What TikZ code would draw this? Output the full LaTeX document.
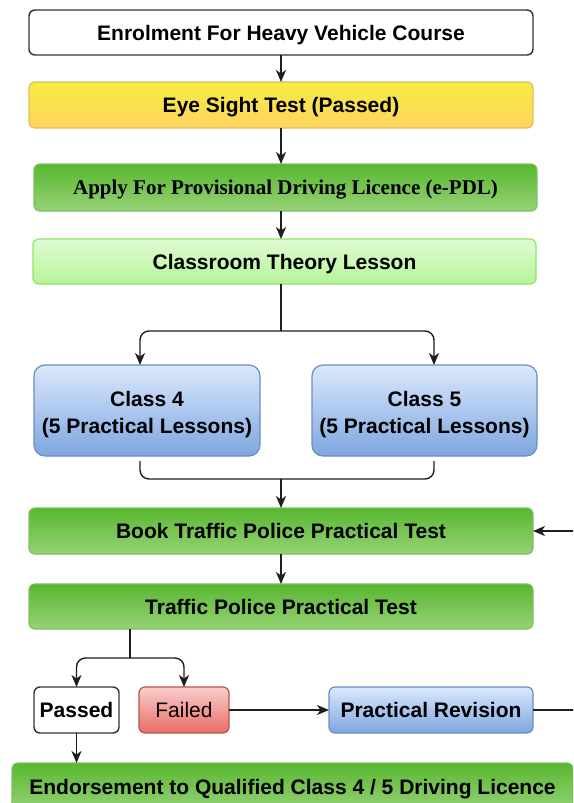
\documentclass[tikz,border=0pt]{standalone}
\usepackage{fontspec}
\setmainfont{Liberation Sans}
\newfontfamily\serifbold{Liberation Serif}
\usetikzlibrary{arrows.meta,calc}
\definecolor{lineC}{RGB}{30,30,30}
\definecolor{boxC}{RGB}{51,51,51}
\definecolor{yelT}{RGB}{247,237,66}
\definecolor{yelB}{RGB}{253,212,95}
\definecolor{yelD}{RGB}{222,190,100}
\definecolor{grnT}{RGB}{88,183,48}
\definecolor{grnB}{RGB}{150,210,118}
\definecolor{grnD}{RGB}{128,190,98}
\definecolor{lgrT}{RGB}{224,252,212}
\definecolor{lgrB}{RGB}{182,244,152}
\definecolor{lgrD}{RGB}{146,226,110}
\definecolor{bluT}{HTML}{DAE8FC}
\definecolor{bluB}{HTML}{7EA6E0}
\definecolor{bluD}{HTML}{6C8EBF}
\definecolor{redT}{HTML}{F8CECC}
\definecolor{redB}{HTML}{EA6B66}
\definecolor{redD}{HTML}{B85450}
\begin{document}
\begin{tikzpicture}[x=1pt,y=-1pt,
  box/.style={draw, rounded corners=6pt, line width=1.2pt, inner sep=0pt, outer sep=0pt,
    align=center, text height=15pt, text depth=0pt,
    font=\fontsize{21}{26.5}\selectfont\bfseries},
  whitebox/.style={box, draw=boxC, fill=white, line width=1.4pt},
  yelbox/.style={box, draw=yelD, top color=yelT, bottom color=yelB},
  grnbox/.style={box, draw=grnD, top color=grnT, bottom color=grnB},
  lgrbox/.style={box, draw=lgrD, top color=lgrT, bottom color=lgrB},
  blubox/.style={box, draw=bluD, top color=bluT, bottom color=bluB},
  redbox/.style={box, draw=redD, top color=redT, bottom color=redB},
  classbox/.style={blubox, rounded corners=11pt, text height=45pt, minimum height=91pt},
  conn/.style={draw=lineC, line width=1.4pt, rounded corners=9pt},
  arr/.style={conn, -{Stealth[length=12pt,width=10pt,inset=3.5pt]}}]
\clip (0,0) rectangle (573,803);
\fill[white] (0,0) rectangle (573,803);

\node[whitebox, minimum width=504pt, minimum height=45pt] (enrol) at (281,32.5) {Enrolment For Heavy Vehicle Course};
\node[yelbox, minimum width=504pt, minimum height=46pt] (eye) at (281,105) {Eye Sight Test (Passed)};
\node[grnbox, minimum width=503pt, minimum height=47pt, text height=13.5pt, font=\fontsize{21}{24}\serifbold\bfseries] (apply) at (285.5,187.5) {Apply For Provisional Driving Licence (e-PDL)};
\node[lgrbox, minimum width=503pt, minimum height=45pt] (theory) at (284.5,261.5) {Classroom Theory Lesson};
\node[classbox, minimum width=226pt] (c4) at (147,410.5) {Class 4\\(5 Practical Lessons)};
\node[classbox, minimum width=225pt] (c5) at (424.5,410.5) {Class 5\\(5 Practical Lessons)};
\node[grnbox, minimum width=504pt, minimum height=46pt] (book) at (281,531) {Book Traffic Police Practical Test};
\node[grnbox, minimum width=504pt, minimum height=45pt] (traffic) at (281,606.5) {Traffic Police Practical Test};
\node[whitebox, minimum width=85pt, minimum height=46pt] (passed) at (76.5,710) {Passed};
\node[redbox, minimum width=90pt, minimum height=46pt, font=\fontsize{21}{24}\selectfont] (failed) at (184,710) {Failed};
\node[blubox, minimum width=204pt, minimum height=46pt] (rev) at (431,710) {Practical Revision};
\node[grnbox, minimum width=561pt, minimum height=48pt] (endorse) at (292.5,787) {Endorsement to Qualified Class 4 / 5 Driving Licence};

\coordinate (split) at (281,331);
\coordinate (merge) at (281,479);
\coordinate (tsplit) at (130,658);
\coordinate (loopR) at (590,0);

\draw[arr] (enrol.south) -- (eye.north);
\draw[arr] (eye.south) -- (eye.south |- apply.north);
\draw[arr] (eye.south |- apply.south) -- (eye.south |- theory.north);
\draw[conn] (eye.south |- theory.south) -- (split);
\draw[arr] (split) -| ($(c4.north west)+(106,0)$);
\draw[arr] (split) -| ($(c5.north west)+(122,0)$);
\draw[conn] ($(c4.south west)+(106,5)$) |- (merge);
\draw[conn] ($(c5.south west)+(122,5)$) |- (merge);
\draw[arr] (merge) -- (merge |- book.north);
\draw[arr] (book.south) -- (traffic.north);
\draw[conn] ($(traffic.south west)+(101,0)$) -- (tsplit);
\draw[arr] (tsplit) -| (passed.north);
\draw[arr] (tsplit) -| (failed.north);
\draw[arr] (failed.east) -- (rev.west);
\draw[arr] (passed.south) -- (passed.south |- endorse.north);
\draw[arr, rounded corners=0pt] (rev.east) -- (rev.east -| loopR) |- (book.east);
\end{tikzpicture}
\end{document}
